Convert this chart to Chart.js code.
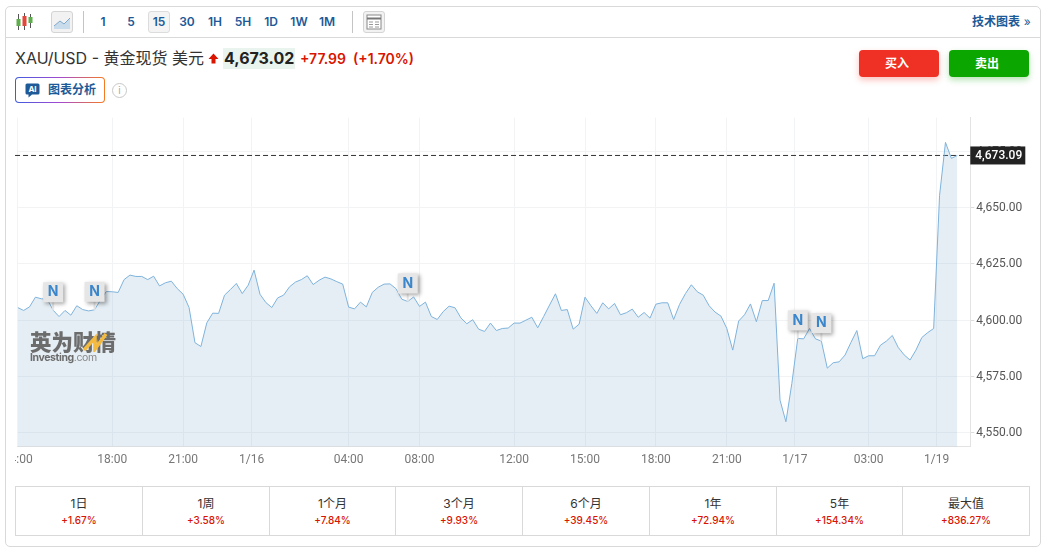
<!DOCTYPE html>
<html lang="zh">
<head>
<meta charset="utf-8">
<title>XAU/USD</title>
<script src="https://cdn.jsdelivr.net/npm/chart.js@4"></script>
<style>
  * { box-sizing: border-box; }
  html, body { margin: 0; width: 1045px; height: 550px; background: #fff; overflow: hidden; }
  body { font-family: Inter, "Noto Sans CJK SC", sans-serif; color: #333; }
  .abs { position: absolute; white-space: nowrap; }
  #card { left: 5px; top: 6px; width: 1036px; height: 541px; border: 1px solid #d9d9d9; border-radius: 5px; }
  #toolline { left: 6px; top: 37px; width: 1034px; height: 1px; background: #d9d9d9; }
  .sep { width: 1px; height: 22px; top: 11px; background: #c4c4c4; }
  .tf { top: 11px; width: 22px; height: 22px; line-height: 22px; text-align: center; font-size: 12px; font-weight: 600; color: #1d5a97; font-family: Inter, sans-serif; }
  .tf.on { background: #f4f4f4; border: 1px solid #dcdcdc; border-radius: 3px; line-height: 20px; }
  .iconbtn { top: 11px; width: 22px; height: 22px; background: #f2f2f2; border: 1px solid #d4d4d4; border-radius: 3px; }
  #tech { left: 972px; top: 14px; font-size: 12px; font-weight: 700; color: #1d5a97; line-height: 16px; }
  #title { left: 15px; top: 48px; font-size: 16px; line-height: 21px; color: #333; }
  #price { left: 223px; top: 48px; height: 21px; padding: 0 1px; background: #e9f4ee; font-size: 16px; line-height: 21px; font-weight: 700; color: #222; font-family: Inter, sans-serif; }
  #chg { left: 300px; top: 49px; font-size: 14px; line-height: 20px; font-weight: 600; color: #d91400; }
  #ai { left: 15px; top: 77px; width: 90px; height: 26px; border-radius: 4px; padding: 1px;
        background: linear-gradient(90deg, #3f5be0, #a44ad0 50%, #f57a20 100%); }
  #ai div { width: 100%; height: 100%; background: #fff; border-radius: 3px; }
  #aitxt { left: 48px; top: 82px; font-size: 12px; line-height: 16px; font-weight: 700; color: #1d5a97; }
  #aiicon { left: 25px; top: 83px; }
  #info { left: 112px; top: 83px; width: 15px; height: 15px; border: 1px solid #c8c8c8; border-radius: 50%; color: #aaa; font-size: 10px; line-height: 13px; text-align: center; }
  .btn { top: 50px; width: 80px; height: 27px; border-radius: 4px; color: #fff; font-size: 12px; font-weight: 700; line-height: 27px; text-align: center; padding-right: 4px; }
  #buy { left: 859px; background: #ee3124; box-shadow: 0 3px 6px rgba(238,49,36,.3); }
  #sell { left: 949px; background: #0ca600; box-shadow: 0 3px 6px rgba(12,166,0,.3); }
  #chart { position: absolute; left: 15px; top: 110px; }
  #wm { left: 30px; top: 329px; width: 90px; height: 36px; pointer-events: none; }
  #wm1 { left: 0; top: 0; font-size: 21.5px; line-height: 24px; font-weight: 900; color: #6c6c6c; font-family: "Noto Sans CJK SC", sans-serif; }
  #wm2 { left: 0; top: 22px; font-size: 10.5px; line-height: 14px; font-weight: 700; color: #6c6c6c; letter-spacing: -.4px; font-family: Inter, sans-serif; }
  #wm2 span { font-weight: 400; color: #888; }
  #perf { left: 15px; top: 486px; width: 1015px; height: 50px; border: 1px solid #d9d9d9; display: flex; }
  #perf .cell { flex: none; border-right: 1px solid #d9d9d9; text-align: center; }
  #perf .cell:last-child { border-right: none; }
  #perf .name { margin-top: 9px; font-size: 12px; line-height: 16px; color: #333; }
  #perf .val { margin-top: 2px; font-size: 10px; line-height: 13px; font-weight: 500; color: #d91400; }
</style>
</head>
<body>
<div class="abs" id="card"></div>
<div class="abs" id="toolline"></div>

<!-- barra de ferramentas -->
<svg class="abs" style="left:15px;top:12px" width="19" height="20" viewBox="0 0 19 20">
  <path d="M3.5 2v16M9.5 1v17M15.5 2v14" stroke="#555" fill="none"/>
  <rect x="1.5" y="7" width="4" height="7" fill="#5fae4c"/>
  <rect x="7.5" y="4" width="4" height="10" fill="#e4473a"/>
  <rect x="13.5" y="5" width="4" height="6" fill="#5fae4c"/>
</svg>
<div class="abs iconbtn" style="left:51px">
  <svg width="20" height="20" viewBox="0 0 20 20"><path d="M2 14 L8 9 L12 12 L18 6 V17 H2Z" fill="#c9dcec"/><path d="M2 14 L8 9 L12 12 L18 6" stroke="#7fa9cc" fill="none"/></svg>
</div>
<div class="abs sep" style="left:83px"></div>
<div id="tfbar"></div>
<div class="abs sep" style="left:352px"></div>
<div class="abs iconbtn" style="left:363px">
  <svg width="20" height="20" viewBox="0 0 20 20"><rect x="3" y="3" width="14" height="14" fill="#fff" stroke="#888"/><path d="M3 6.5H17" stroke="#777" stroke-width="2"/><path d="M5 10h4M5 12.5h4M5 15h4M11 10h4M11 12.5h4M11 15h4" stroke="#999"/></svg>
</div>
<div class="abs" id="tech">技术图表 <span style="font-weight:400;margin-left:1px">»</span></div>

<!-- cabeçalho -->
<div class="abs" id="title">XAU/USD - 黄金现货 美元</div>
<svg class="abs" style="left:208px;top:53px" width="11" height="11" viewBox="0 0 11 11"><path d="M5.5 0.5 L10.5 6 H7.5 V10.5 H3.5 V6 H0.5Z" fill="#d91400"/></svg>
<div class="abs" id="price">4,673.02</div>
<div class="abs" id="chg">+77.99&nbsp;&nbsp;(+1.70%)</div>
<div class="abs" id="ai"><div></div></div>
<svg class="abs" id="aiicon" width="15" height="15" viewBox="0 0 15 15">
  <path d="M2 0.5H13A1.5 1.5 0 0 1 14.5 2V10A1.5 1.5 0 0 1 13 11.5H7L3.5 14.5V11.5H2A1.5 1.5 0 0 1 0.5 10V2A1.5 1.5 0 0 1 2 0.5Z" fill="#1d5a97"/>
  <text x="7.5" y="9" text-anchor="middle" font-size="8" font-weight="700" fill="#fff" font-family="Inter, sans-serif">AI</text>
</svg>
<div class="abs" id="aitxt">图表分析</div>
<div class="abs" id="info">i</div>
<div class="abs btn" id="buy">买入</div>
<div class="abs btn" id="sell">卖出</div>

<canvas id="chart" width="1015" height="370"></canvas>

<div class="abs" id="wm">
  <div class="abs" id="wm1">英为财情</div>
  <svg class="abs" style="left:52px;top:3px" width="26" height="20" viewBox="0 0 26 20"><path d="M2 18 L13 6 L13 17 L24 2" stroke="#f4b93f" stroke-width="3.5" fill="none"/></svg>
  <div class="abs" id="wm2">Investing<span>.com</span></div>
</div>

<div class="abs" id="perf"></div>

<script>
// Barra de intervalos
const timeframes = ['1', '5', '15', '30', '1H', '5H', '1D', '1W', '1M'];
const activeTimeframe = '15';

// Tabela de desempenho
const perfNames = ['1日', '1周', '1个月', '3个月', '6个月', '1年', '5年', '最大值'];
const perfValues = ['+1.67%', '+3.58%', '+7.84%', '+9.93%', '+39.45%', '+72.94%', '+154.34%', '+836.27%'];
const perfWidths = [127, 127, 126, 127, 127, 127, 126, 126];

// Cotações de 15 minutos
const closePrices = [
  4605.6, 4604.3, 4605.9, 4610.2, 4609.5, 4609.3, 4604.4, 4601.6, 4604.3, 4602.2,
  4606.4, 4604.7, 4604.1, 4604.6, 4608.9, 4612.7, 4612.6, 4612.3, 4618.0, 4620.0,
  4619.4, 4619.4, 4618.0, 4619.5, 4615.2, 4616.6, 4617.3, 4614.0, 4611.5, 4605.6,
  4590.0, 4588.3, 4598.8, 4603.1, 4603.0, 4611.1, 4613.6, 4616.3, 4611.8, 4615.5,
  4622.2, 4611.5, 4607.8, 4605.6, 4609.9, 4611.1, 4614.8, 4616.9, 4618.0, 4619.7,
  4615.8, 4617.7, 4619.1, 4618.3, 4617.1, 4616.0, 4605.8, 4605.0, 4608.0, 4605.9,
  4612.3, 4614.6, 4616.0, 4616.1, 4614.0, 4609.3, 4608.3, 4610.3, 4606.1, 4608.0,
  4601.6, 4600.3, 4603.8, 4606.2, 4605.5, 4601.0, 4598.4, 4600.2, 4596.0, 4595.0,
  4598.7, 4595.4, 4596.3, 4596.5, 4598.7, 4598.7, 4600.0, 4601.3, 4596.6, 4601.6,
  4606.7, 4611.7, 4604.3, 4604.7, 4596.0, 4598.2, 4610.2, 4606.4, 4603.0, 4607.7,
  4605.0, 4607.4, 4602.4, 4603.3, 4604.9, 4601.3, 4603.4, 4600.9, 4607.1, 4607.7,
  4607.7, 4600.3, 4607.0, 4611.8, 4615.7, 4612.6, 4611.1, 4606.4, 4603.6, 4601.8,
  4596.3, 4586.7, 4599.6, 4602.4, 4607.2, 4599.3, 4608.7, 4608.7, 4616.4, 4564.5,
  4554.9, 4571.9, 4591.9, 4591.7, 4596.3, 4591.7, 4590.7, 4578.7, 4581.1, 4581.5,
  4584.5, 4590.1, 4595.4, 4582.9, 4584.2, 4584.2, 4588.9, 4590.7, 4593.2, 4587.9,
  4584.6, 4582.3, 4586.7, 4592.3, 4594.5, 4596.3, 4655.4, 4678.9, 4671.8, 4673.1
];
const lastPrice = 4673.09;

// Eixos
const xTickPositions = [0, 16, 28, 39.6, 56, 68, 84, 96, 108, 120, 131.5, 144, 155.5];
const xTickLabels = ['14:00', '18:00', '21:00', '1/16', '04:00', '08:00', '12:00', '15:00', '18:00', '21:00', '1/17', '03:00', '1/19'];
const yTickValues = [4550, 4575, 4600, 4625, 4650, 4675];

// Marcadores de notícias (índice do ponto)
const newsPoints = [6, 13, 66, 132, 136];

document.getElementById('tfbar').innerHTML = timeframes.map((t, i) =>
  `<div class="abs tf${t === activeTimeframe ? ' on' : ''}" style="left:${92 + i * 28}px">${t}</div>`).join('');

document.getElementById('perf').innerHTML = perfNames.map((n, i) =>
  `<div class="cell" style="width:${perfWidths[i]}px"><div class="name">${n}</div><div class="val">${perfValues[i]}</div></div>`).join('');

// Bandeiras "N" e etiqueta do último preço
const overlayPlugin = {
  id: 'overlay',
  afterDatasetsDraw(chart) {
    const { ctx, scales: { x, y } } = chart;
    ctx.save();
    newsPoints.forEach(i => {
      const px = x.getPixelForValue(i);
      const py = y.getPixelForValue(closePrices[i]);
      const bottom = py - 8;
      ctx.fillStyle = '#e6e6e6';
      ctx.fillRect(px - 1, bottom, 2, 8);
      ctx.shadowColor = 'rgba(0,0,0,0.35)';
      ctx.shadowBlur = 4;
      ctx.shadowOffsetX = 2;
      ctx.shadowOffsetY = 2;
      ctx.fillRect(px - 10, bottom - 20, 20, 20);
      ctx.shadowColor = 'transparent';
      ctx.fillStyle = '#3a86cc';
      ctx.font = 'bold 14px Inter, sans-serif';
      ctx.textAlign = 'center';
      ctx.textBaseline = 'middle';
      ctx.fillText('N', px, bottom - 10);
    });
    const ly = y.getPixelForValue(lastPrice);
    const ax = chart.chartArea.right;
    ctx.fillStyle = '#222';
    ctx.fillRect(ax, ly - 9, 55, 18);
    ctx.fillStyle = '#fff';
    ctx.font = '500 12px Roboto, sans-serif';
    ctx.textAlign = 'left';
    ctx.textBaseline = 'middle';
    ctx.fillText(lastPrice.toLocaleString('en-US', { minimumFractionDigits: 2 }), ax + 5, ly + 0.5);
    ctx.restore();
  }
};

new Chart(document.getElementById('chart').getContext('2d'), {
  type: 'line',
  data: {
    datasets: [
      {
        data: closePrices.map((y, i) => ({ x: i, y })),
        borderColor: '#7fb3dc',
        borderWidth: 1,
        backgroundColor: 'rgba(125,170,200,0.2)',
        fill: 'start',
        pointRadius: 0,
        tension: 0
      },
      {
        data: [{ x: -0.45, y: lastPrice }, { x: 161.2, y: lastPrice }],
        borderColor: '#333',
        borderWidth: 1,
        borderDash: [5, 3],
        pointRadius: 0,
        clip: false
      }
    ]
  },
  options: {
    responsive: false,
    animation: false,
    layout: { padding: { left: 2.7, top: 7.7 } },
    plugins: { legend: { display: false }, tooltip: { enabled: false } },
    scales: {
      x: {
        type: 'linear',
        min: 0,
        max: 161.2,
        afterBuildTicks: s => { s.ticks = xTickPositions.map(value => ({ value })); },
        // sem folga lateral: o rótulo da primeira marca fica cortado na borda
        afterFit: s => { s.height = 33.3; s.paddingLeft = 0; s.paddingRight = 0; },
        grid: { color: '#f1f3f5', drawTicks: false },
        border: { color: '#e3e3e3' },
        ticks: {
          autoSkip: false,
          maxRotation: 0,
          padding: 6,
          color: '#777',
          font: { family: 'Roboto', size: 12 },
          callback: v => xTickLabels[xTickPositions.indexOf(v)]
        }
      },
      y: {
        position: 'right',
        min: 4543.84,
        max: 4689.85,
        afterBuildTicks: s => { s.ticks = yTickValues.map(value => ({ value })); },
        afterFit: s => { s.width = 59.7; s.paddingTop = 0; s.paddingBottom = 0; },
        grid: { color: '#f1f3f5', tickColor: '#dcdcdc', tickLength: 4 },
        border: { color: '#e3e3e3' },
        ticks: {
          padding: 2,
          labelOffset: 0.6,
          color: '#555',
          font: { family: 'Roboto', size: 12 },
          callback: v => v.toLocaleString('en-US', { minimumFractionDigits: 2 })
        }
      }
    }
  },
  plugins: [overlayPlugin]
});
</script>
</body>
</html>
